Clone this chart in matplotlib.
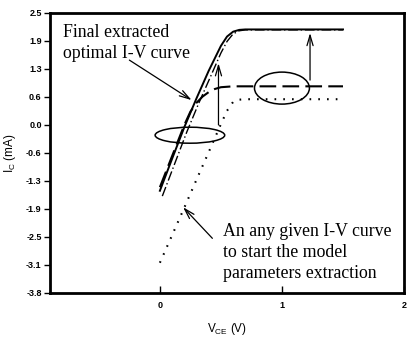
import matplotlib
matplotlib.use("Agg")
import matplotlib.pyplot as plt
from matplotlib.patches import Ellipse

# Collector voltage samples (V) and collector current curves (mA)
vce_final = [0.00, 0.10, 0.20, 0.30, 0.40, 0.50, 0.55, 0.60, 0.65, 0.70, 1.00, 1.50]
ic_final = [-1.50, -0.78, -0.07, 0.58, 1.20, 1.76, 1.97, 2.08, 2.12, 2.13, 2.13, 2.13]

vce_mid = [0.02, 0.12, 0.22, 0.32, 0.42, 0.50, 0.55, 0.60, 0.65, 0.70, 1.00, 1.50]
ic_mid = [-1.62, -0.90, -0.18, 0.48, 1.10, 1.60, 1.86, 2.03, 2.10, 2.12, 2.12, 2.12]

vce_step = [0.00, 0.10, 0.20, 0.25, 0.30, 0.35, 0.40, 0.45, 0.50, 0.60, 1.00, 1.50]
ic_step = [-1.42, -0.72, -0.02, 0.28, 0.48, 0.62, 0.72, 0.79, 0.83, 0.85, 0.85, 0.85]

vce_start = [0.00, 0.10, 0.20, 0.30, 0.40, 0.50, 0.55, 0.60, 0.65, 0.70, 1.00, 1.50]
ic_start = [-3.12, -2.50, -1.88, -1.25, -0.63, 0.00, 0.30, 0.50, 0.55, 0.56, 0.56, 0.56]

y_ticks = [-3.8, -3.17, -2.54, -1.91, -1.28, -0.65, -0.02, 0.61, 1.24, 1.87, 2.5]
y_tick_labels = ["-3.8", "-3.1", "-2.5", "-1.9", "-1.3", "-0.6", "0.0", "0.6", "1.3", "1.9", "2.5"]
x_ticks = [0, 1, 2]
x_tick_labels = ["0", "1", "2"]

serif = ["Liberation Serif", "DejaVu Serif"]
sans = ["Liberation Sans", "DejaVu Sans"]

fig = plt.figure(figsize=(4.07, 3.41), dpi=100)
ax = fig.add_axes([0.1229, 0.1408, 0.8698, 0.8211])

ax.plot(vce_final, ic_final, color="black", lw=1.4, ls="-")
ax.plot(vce_mid, ic_mid, color="black", lw=1.0, ls=(0, (7, 2, 1, 2)))
ax.plot(vce_step, ic_step, color="black", lw=1.5, ls=(0, (8, 3)))
ax.plot(vce_start, ic_start, color="black", lw=1.5, ls=(0, (0.8, 3.4)))

ax.set_xlim(-0.90, 2.0)
ax.set_ylim(-3.8, 2.5)

# Regions of interest and update arrows
ax.add_patch(Ellipse((0.246, -0.25), 0.57, 0.36, fill=False, ec="black", lw=1.1))
ax.add_patch(Ellipse((1.0, 0.81), 0.45, 0.72, fill=False, ec="black", lw=1.1))

arrow_kw = dict(arrowstyle="->,head_length=0.75,head_width=0.22", color="black", lw=0.9,
                shrinkA=0, shrinkB=0)
ax.annotate("", xy=(0.48, 1.37), xytext=(0.48, -0.02), arrowprops=arrow_kw)
ax.annotate("", xy=(1.23, 2.05), xytext=(1.23, 0.99), arrowprops=arrow_kw)

ax.annotate("", xy=(0.26, 0.54), xytext=(-0.25, 1.44), arrowprops=arrow_kw)
ax.annotate("", xy=(0.19, -1.87), xytext=(0.43, -2.57), arrowprops=arrow_kw)

ax.text(-0.795, 2.25, "Final extracted\noptimal I-V curve", family=serif, fontsize=12.8,
        va="top", ha="left", linespacing=1.3)
ax.text(0.516, -2.23, "An any given I-V curve\nto start the model\nparameters extraction",
        family=serif, fontsize=12.8, va="top", ha="left", linespacing=1.3)

ax.set_yticks(y_ticks)
ax.set_yticklabels(y_tick_labels, family=sans, fontsize=6.5, fontweight="bold")
ax.set_xticks(x_ticks)
ax.set_xticklabels(x_tick_labels, family=sans, fontsize=6.5, fontweight="bold")
ax.tick_params(axis="y", direction="out", length=4, width=1.0, pad=2)
ax.tick_params(axis="x", direction="in", length=5, width=1.0, pad=6)

for s in ax.spines.values():
    s.set_linewidth(2.0)

ax.set_xlabel(r"V$_\mathregular{CE}$ (V)", family=sans, fontsize=8.5, labelpad=8)
ax.set_ylabel(r"I$_\mathregular{C}$ (mA)", family=sans, fontsize=8.5, labelpad=6)

fig.savefig("out.png", dpi=100)
